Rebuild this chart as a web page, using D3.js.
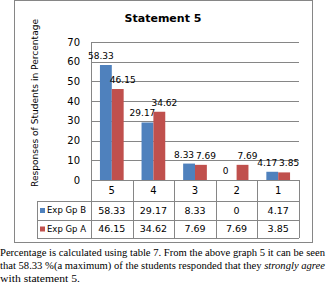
<!DOCTYPE html>
<html lang="en">
  <head>
    <meta charset="utf-8">
    <title>Statement 5</title>
    <script type="text/javascript" src="https://cdn.jsdelivr.net/npm/d3@7"></script>
    <style>
      body { margin: 0; background: #fff; }
      svg { display: block; }
      .chart text { font-family: "DejaVu Sans", Verdana, sans-serif; fill: #000; }
      .para text { font-family: "Liberation Serif", "Times New Roman", serif; font-size: 10.5px; fill: #000; }
    </style>
  </head>
  <body>
    <script type="text/javascript">
    // chart data
    var categories = ["5", "4", "3", "2", "1"];
    var seriesNames = ["Exp Gp B", "Exp Gp A"];
    var expGpB = [58.33, 29.17, 8.33, 0, 4.17];
    var expGpA = [46.15, 34.62, 7.69, 7.69, 3.85];
    var yTicks = [0, 10, 20, 30, 40, 50, 60, 70];
    var colors = ["#4f81bd", "#c0504d"];

    var w = 326;
    var h = 289;

    var svg = d3.select("body")
                .append("svg")
                .attr("width", w)
                .attr("height", h);

    var chart = svg.append("g").attr("class", "chart");

    // outer frame
    chart.append("rect")
         .attr("x", 14.5).attr("y", 0.5)
         .attr("width", 298).attr("height", 242)
         .attr("fill", "#fff")
         .attr("stroke", "#868686");

    // scales
    var plotLeft = 91, plotRight = 299, plotTop = 42, plotBottom = 180;
    var xScale = d3.scaleBand()
                   .domain(categories)
                   .range([plotLeft, plotRight])
                   .paddingInner(0.43)
                   .paddingOuter(0.215);
    var xCol = d3.scaleBand()
                 .domain(categories)
                 .range([plotLeft, plotRight]);
    var xInner = d3.scaleBand()
                   .domain(seriesNames)
                   .range([0, xScale.bandwidth()]);
    var yScale = d3.scaleLinear()
                   .domain([0, 70])
                   .range([plotBottom, plotTop]);

    // gridlines
    chart.append("g")
         .selectAll("line")
         .data(yTicks)
         .enter()
         .append("line")
         .attr("x1", plotLeft).attr("x2", plotRight)
         .attr("y1", function(d) { return Math.round(yScale(d)) + 0.5; })
         .attr("y2", function(d) { return Math.round(yScale(d)) + 0.5; })
         .attr("stroke", "#868686");

    // y axis line
    chart.append("line")
         .attr("x1", plotLeft + 0.5).attr("x2", plotLeft + 0.5)
         .attr("y1", plotTop).attr("y2", plotBottom)
         .attr("stroke", "#868686");

    // y tick labels
    chart.append("g")
         .selectAll("text")
         .data(yTicks)
         .enter()
         .append("text")
         .attr("x", 80)
         .attr("y", function(d) { return yScale(d); })
         .attr("dy", "0.35em")
         .attr("text-anchor", "end")
         .attr("font-size", "10px")
         .text(function(d) { return d; });

    // y title
    chart.append("text")
         .attr("transform", "translate(38," + 103 + ") rotate(-90)")
         .attr("text-anchor", "middle")
         .attr("font-size", "9px")
         .attr("textLength", 168)
         .attr("lengthAdjust", "spacingAndGlyphs")
         .text("Responses of Students in Percentage");

    // title
    chart.append("text")
         .attr("x", 163).attr("y", 22)
         .attr("text-anchor", "middle")
         .attr("font-size", "11px")
         .attr("font-weight", "bold")
         .text("Statement 5");

    // bars
    var seriesData = [expGpB, expGpA];
    seriesData.forEach(function(vals, s) {
      var g = chart.append("g");
      g.selectAll("rect")
       .data(vals)
       .enter()
       .append("rect")
       .attr("x", function(d, i) { return xScale(categories[i]) + xInner(seriesNames[s]); })
       .attr("y", function(d) { return yScale(d); })
       .attr("width", xInner.bandwidth())
       .attr("height", function(d) { return yScale(0) - yScale(d); })
       .attr("fill", colors[s]);

      // data labels
      g.selectAll("text")
       .data(vals)
       .enter()
       .append("text")
       .attr("x", function(d, i) {
         return xScale(categories[i]) + xInner(seriesNames[s]) + xInner.bandwidth() / 2 + (s === 0 ? -5 : 5);
       })
       .attr("y", function(d) { return yScale(d) - 6; })
       .attr("text-anchor", "middle")
       .attr("font-size", "9px")
       .text(function(d) { return d; });
    });

    // data table
    var rowTops = [180, 201, 220, 238];
    var tableLeft = 37;
    var table = chart.append("g");

    // horizontal lines
    table.append("line")
         .attr("x1", plotLeft).attr("x2", plotRight)
         .attr("y1", rowTops[0] + 0.5).attr("y2", rowTops[0] + 0.5)
         .attr("stroke", "#868686");
    rowTops.slice(1).forEach(function(y) {
      table.append("line")
           .attr("x1", tableLeft).attr("x2", plotRight)
           .attr("y1", y + 0.5).attr("y2", y + 0.5)
           .attr("stroke", "#868686");
    });

    // vertical lines
    var colEdges = categories.map(function(c) { return Math.round(xCol(c)); }).concat([plotRight]);
    table.selectAll("line.v")
         .data(colEdges)
         .enter()
         .append("line")
         .attr("class", "v")
         .attr("x1", function(d) { return d + 0.5; })
         .attr("x2", function(d) { return d + 0.5; })
         .attr("y1", rowTops[0]).attr("y2", rowTops[3])
         .attr("stroke", "#868686");
    table.append("line")
         .attr("x1", tableLeft + 0.5).attr("x2", tableLeft + 0.5)
         .attr("y1", rowTops[1]).attr("y2", rowTops[3])
         .attr("stroke", "#868686");

    // category labels
    table.selectAll("text.cat")
         .data(categories)
         .enter()
         .append("text")
         .attr("class", "cat")
         .attr("x", function(d) { return xCol(d) + xCol.bandwidth() / 2; })
         .attr("y", (rowTops[0] + rowTops[1]) / 2)
         .attr("dy", "0.35em")
         .attr("text-anchor", "middle")
         .attr("font-size", "10px")
         .text(function(d) { return d; });

    // series rows
    seriesData.forEach(function(vals, s) {
      var cy = (rowTops[s + 1] + rowTops[s + 2]) / 2;
      table.append("rect")
           .attr("x", 40).attr("y", cy - 2.5)
           .attr("width", 5).attr("height", 5)
           .attr("fill", colors[s]);
      table.append("text")
           .attr("x", 47).attr("y", cy)
           .attr("dy", "0.35em")
           .attr("font-size", "8.5px")
           .text(seriesNames[s]);
      table.selectAll("text.v" + s)
           .data(vals)
           .enter()
           .append("text")
           .attr("class", "v" + s)
           .attr("x", function(d, i) { return xCol(categories[i]) + xCol.bandwidth() / 2; })
           .attr("y", cy)
           .attr("dy", "0.35em")
           .attr("text-anchor", "middle")
           .attr("font-size", "9.5px")
           .text(function(d) { return d; });
    });

    // paragraph below
    var para = svg.append("g").attr("class", "para");
    para.append("text")
        .attr("x", 0).attr("y", 256)
        .attr("textLength", 325)
        .attr("lengthAdjust", "spacingAndGlyphs")
        .text("Percentage is calculated using table 7. From the above graph 5  it can be seen");
    var l2 = para.append("text")
        .attr("x", 0).attr("y", 269)
        .attr("textLength", 325)
        .attr("lengthAdjust", "spacingAndGlyphs");
    l2.append("tspan").text("that 58.33 %(a maximum) of the students responded that they ");
    l2.append("tspan").attr("font-style", "italic").text("strongly agree");
    para.append("text")
        .attr("x", 0).attr("y", 282)
        .attr("textLength", 80)
        .attr("lengthAdjust", "spacingAndGlyphs")
        .text("with statement 5.");
    </script>
  </body>
</html>
